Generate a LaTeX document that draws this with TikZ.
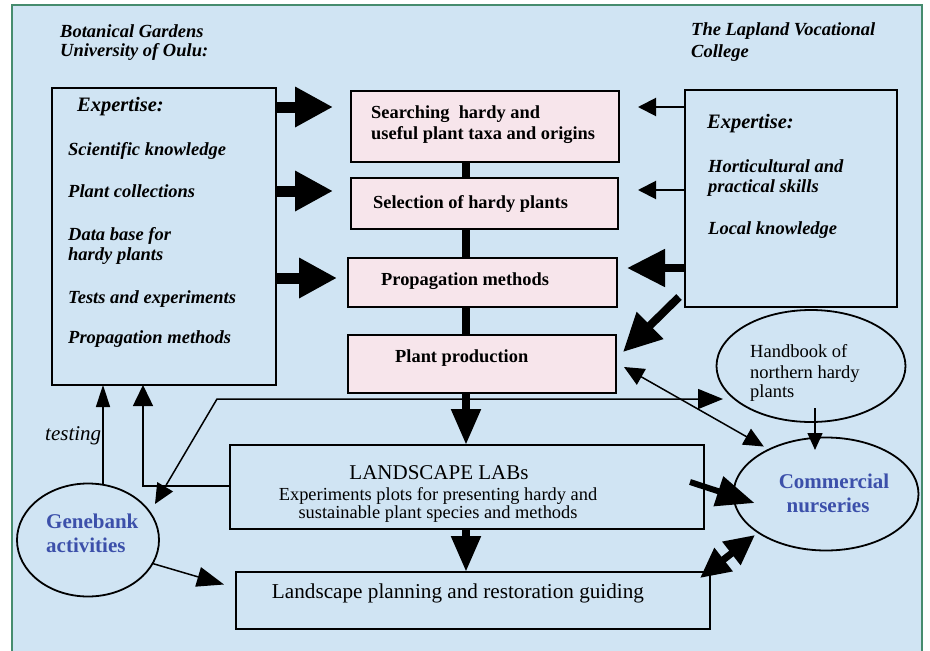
\documentclass[tikz,border=0pt]{standalone}
\usepackage{fontspec}
\setmainfont{Liberation Serif}
\usetikzlibrary{arrows.meta,calc,shapes.geometric}
\definecolor{bgblue}{RGB}{208,228,243}
\definecolor{pinkfill}{RGB}{247,229,235}
\definecolor{framegreen}{RGB}{70,140,110}
\definecolor{labelblue}{RGB}{60,80,170}
\begin{document}
\begin{tikzpicture}[x=1pt,y=-1pt,
  box/.style={draw=black,line width=2pt,rectangle,inner sep=0pt,outer sep=0pt},
  pinkbox/.style={box,fill=pinkfill},
  oval/.style={draw=black,line width=1.8pt,ellipse,inner sep=0pt,outer sep=0pt},
  bi/.style={anchor=base west,inner sep=0pt,font=\fontsize{18.5}{20}\selectfont\bfseries\itshape},
  bibig/.style={anchor=base west,inner sep=0pt,font=\fontsize{20.5}{22}\selectfont\bfseries\itshape},
  bu/.style={anchor=base west,inner sep=0pt,font=\fontsize{18.4}{20}\selectfont\bfseries},
  rm/.style={anchor=base,inner sep=0pt,font=\fontsize{18.4}{20}\selectfont},
  bluebold/.style={inner sep=0pt,text=labelblue,font=\fontsize{21}{23}\selectfont\bfseries},
  spine/.style={line width=8pt},
  bigarrow/.style={line width=11pt,-{Triangle[length=38pt,width=38pt]}},
  medarrow/.style={line width=8pt,-{Triangle[length=38pt,width=36pt]}},
  downarrow/.style={line width=8pt,-{Triangle[length=36pt,width=28pt]}},
  thinarrow/.style={line width=2pt,-{Triangle[length=18pt,width=18pt]}},
  fineline/.style={line width=1.5pt}
]
\fill[white] (0,0) rectangle (930,651);
\useasboundingbox (0,0) rectangle (930,651);
\fill[bgblue] (12,5) rectangle (922,651);
\draw[framegreen,line width=1.5pt] (12,651) -- (12,5) -- (922,5) -- (922,651);

% boxes
\node[box,minimum width=224pt,minimum height=297pt] (L) at (164,236.5) {};
\node[box,minimum width=212pt,minimum height=217pt] (R) at (791,198.5) {};
\node[pinkbox,minimum width=268pt,minimum height=71pt] (P1) at (485,126.5) {};
\node[pinkbox,minimum width=267pt,minimum height=51pt] (P2) at (484.5,203.5) {};
\node[pinkbox,minimum width=269pt,minimum height=49pt] (P3) at (482.5,282.5) {};
\node[pinkbox,minimum width=268pt,minimum height=58pt] (P4) at (482,364) {};
\node[box,minimum width=474pt,minimum height=84pt] (LAB) at (467,487) {};
\node[box,minimum width=474pt,minimum height=57pt] (PLAN) at (473,600.5) {};
\node[oval,minimum width=142pt,minimum height=113pt] (GB) at (88,540) {};
\node[oval,minimum width=189pt,minimum height=112pt] (HB) at (811,366) {};
\node[oval,minimum width=185pt,minimum height=113pt] (CN) at (826,494) {};

% texts
\node[bi] (t1) at (60,37) {Botanical Gardens};
\node[bi] (t2) at (60,56) {University of Oulu:};
\node[bi] (t3) at (691,35) {The Lapland Vocational};
\node[bi] (t4) at (691,57) {College};
\node[bibig] (e1) at (77,111) {Expertise:};
\node[bi] (s1) at (68,155) {Scientific knowledge};
\node[bi] (s2) at (68,197) {Plant collections};
\node[bi] (s3) at (68,240) {Data base for};
\node[bi] (s4) at (68,260) {hardy plants};
\node[bi] (s5) at (68,303) {Tests and experiments};
\node[bi] (s6) at (68,343) {Propagation methods};
\node[bibig] (e2) at (707,128) {Expertise:};
\node[bi] (r1) at (708,172) {Horticultural and};
\node[bi] (r2) at (708,192) {practical skills};
\node[bi] (r3) at (708,234) {Local knowledge};
\node[bu] (p1a) at (371,118) {Searching\ \ hardy and};
\node[bu] (p1b) at (371,139) {useful plant taxa and origins};
\node[bu] (p2) at (373,208) {Selection of hardy plants};
\node[bu] (p3) at (381,285) {Propagation methods};
\node[bu] (p4) at (395,362) {Plant production};
\node[rm,font=\fontsize{21}{23}\selectfont] (l1) at (439,479) {LANDSCAPE LABs};
\node[rm] (l2) at (438,500.5) {Experiments plots for presenting hardy and};
\node[rm] (l3) at (438,518) {sustainable plant species and methods};
\node[rm,font=\fontsize{21.2}{23}\selectfont] (pl) at (458,598) {Landscape planning and restoration guiding};
\node[bluebold,anchor=base west] (g1) at (46,528) {Genebank};
\node[bluebold,anchor=base west] (g2) at (46,552) {activities};
\node[bluebold,anchor=base] (c1) at (834,488) {Commercial};
\node[bluebold,anchor=base] (c2) at (828,512) {nurseries};
\node[rm,anchor=base west,font=\fontsize{18.5}{20}\selectfont] (h1) at (750,357) {Handbook of};
\node[rm,anchor=base west,font=\fontsize{18.5}{20}\selectfont] (h2) at (750,378) {northern hardy};
\node[rm,anchor=base west,font=\fontsize{18.5}{20}\selectfont] (h3) at (750,397) {plants};
\node[anchor=base west,inner sep=0pt,font=\fontsize{21}{23}\selectfont\itshape] (tst) at (45,440) {testing};

% central spine
\coordinate (sp) at (466,0);
\draw[spine] (P1.south -| sp) -- (P2.north -| sp);
\draw[spine] (P2.south -| sp) -- (P3.north -| sp);
\draw[spine] (P3.south -| sp) -- (P4.north -| sp);
\draw[downarrow] (P4.south -| sp) -- (LAB.north -| sp);
\draw[downarrow] (LAB.south -| sp) -- (PLAN.north -| sp);

% left expertise arrows
\coordinate (a1) at (0,107);
\coordinate (a2) at (0,191);
\coordinate (a3) at (0,278);
\draw[bigarrow,shorten >=18pt] (L.east |- a1) -- (P1.west |- a1);
\draw[bigarrow,shorten >=18pt] (L.east |- a2) -- (P2.west |- a2);
\draw[bigarrow,shorten >=11pt] (L.east |- a3) -- (P3.west |- a3);

% right expertise arrows
\coordinate (b1) at (0,107);
\coordinate (b2) at (0,190);
\coordinate (b3) at (0,268);
\draw[thinarrow,shorten >=19pt] (R.west |- b1) -- (P1.east |- b1);
\draw[thinarrow,shorten >=20pt] (R.west |- b2) -- (P2.east |- b2);
\draw[medarrow,shorten >=10pt] (R.west |- b3) -- (P3.east |- b3);
\draw[medarrow] ($(R.south west)+(-6,-10)$) -- ($(P4.north east)+(7,17)$);

% plant production <-> commercial nurseries
\draw[fineline,{Triangle[length=20pt,width=18pt]}-{Triangle[length=20pt,width=18pt]},shorten >=6pt] ($(P4.east)+(8,3)$) -- (CN.142);

% handbook <-> genebank
\coordinate (hbt) at ($(HB.center)+(-88,33)$);
\coordinate (bend) at (217,399);
\coordinate (gbt) at ($(GB.center)+(67,-36)$);
\draw[fineline,{Triangle[length=20pt,width=18pt]}-{Triangle[length=25pt,width=20pt]}] (gbt) -- (bend) -- (hbt);

% landscape lab -> expertise box
\coordinate (lb) at (143,486);
\draw[fineline,-{Triangle[length=21pt,width=20pt]}] (LAB.west |- lb) -- (lb) -- (lb |- L.south);

% genebank -> expertise box (testing)
\coordinate (tx) at (103,0);
\draw[fineline,-{Triangle[length=22pt,width=14pt]}] (GB.north -| tx) -- (L.south -| tx);

% genebank -> landscape planning
\draw[fineline,-{Triangle[length=27pt,width=20pt]}] (GB.-20) -- ($(PLAN.west)+(-12,-16)$);

% handbook -> commercial
\draw[fineline,-{Triangle[length=17pt,width=15pt]}] ($(HB.south)+(4,-14)$) -- ($(CN.north)+(-11,12.5)$);

% landscape lab -> commercial
\draw[line width=6pt,-{Triangle[length=38pt,width=30pt]}] ($(LAB.east)+(-14,-5)$) -- ($(CN.west)+(21,9)$);

% landscape planning <-> commercial
\draw[line width=7pt,{Triangle[length=30pt,width=28pt]}-{Triangle[length=30pt,width=28pt]}] ($(PLAN.north east)+(-10,6)$) -- ($(CN.west)+(21.5,41)$);
\end{tikzpicture}
\end{document}
